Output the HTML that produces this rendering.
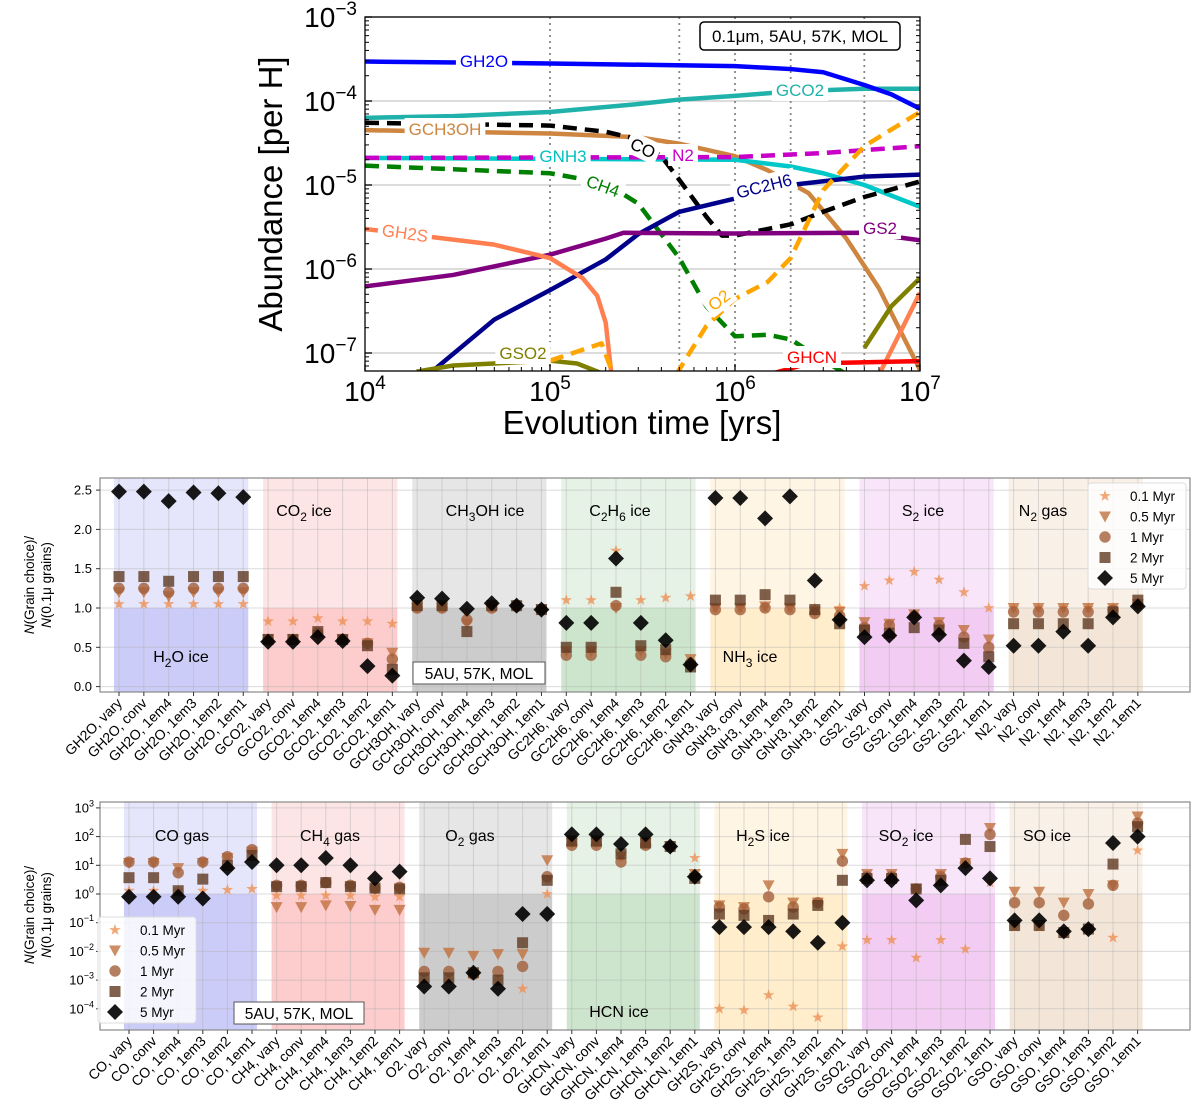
<!DOCTYPE html>
<html><head><meta charset="utf-8">
<style>
html,body{margin:0;padding:0;background:#fff;}
svg{display:block;font-family:"Liberation Sans","DejaVu Sans",sans-serif;}
</style></head>
<body>
<svg id="fig" width="1200" height="1108" viewBox="0 0 1200 1108"></svg>
<script>
// ---------- TOP PANEL DATA ----------
const tGH2O=[1e4,1e5,1e6,2e6,3e6,5e6,7e6,1e7];
const vGH2O=[2.95e-4,2.8e-4,2.6e-4,2.4e-4,2.2e-4,1.55e-4,1.2e-4,8.1e-5];
const tGCO2=[1e4,3e4,1e5,3e5,5e5,1e6,2e6,5e6,1e7];
const vGCO2=[6.3e-5,6.6e-5,7.4e-5,9.2e-5,1.04e-4,1.15e-4,1.3e-4,1.4e-4,1.4e-4];
const tCO=[1e4,1e5,2e5,3e5,4e5,5e5,7e5,8.5e5,1e6,2e6,3e6,5e6,1e7];
const vCO=[5.5e-5,5.1e-5,4.3e-5,3.5e-5,2.2e-5,1.15e-5,4.2e-6,2.5e-6,2.5e-6,3.4e-6,4.8e-6,7.2e-6,1.1e-5];
const tGCH3OH=[1e4,1e5,3e5,5e5,1e6,1.5e6,2.5e6,4e6,6e6,1e7];
const vGCH3OH=[4.5e-5,4.1e-5,3.7e-5,3.1e-5,2.2e-5,1.5e-5,8e-6,2.3e-6,5.9e-7,6.3e-8];
const tGNH3=[1e4,1e6,2e6,3e6,5e6,1e7];
const vGNH3=[2.1e-5,2.0e-5,1.66e-5,1.38e-5,1.0e-5,5.5e-6];
const tN2=[1e4,1e6,3e6,1e7];
const vN2=[2.1e-5,2.15e-5,2.4e-5,2.9e-5];
const tCH4=[1e4,1e5,2e5,3e5,5e5,7e5,1e6,1.5e6,2e6,3e6,4e6];
const vCH4=[1.7e-5,1.38e-5,1.05e-5,6e-6,1.35e-6,3.6e-7,1.58e-7,1.65e-7,1.45e-7,8.2e-8,5.6e-8];
const tGC2H6=[2.3e4,5e4,1e5,2e5,3e5,5e5,1e6,2e6,5e6,1e7];
const vGC2H6=[6.0e-8,2.5e-7,5.6e-7,1.3e-6,2.6e-6,4.8e-6,6.9e-6,1e-5,1.26e-5,1.33e-5];
const tGS2=[1e4,3e4,1e5,2e5,2.5e5,1e6,5e6,1e7];
const vGS2=[6.2e-7,8.5e-7,1.48e-6,2.3e-6,2.7e-6,2.65e-6,2.7e-6,2.2e-6];
const tGH2S=[1e4,5e4,1e5,1.5e5,1.8e5,2e5,2.15e5];
const vGH2S=[3e-6,1.95e-6,1.35e-6,7.8e-7,4.8e-7,2.3e-7,5.5e-8];
const tGH2S_late=[6e6,1e7];
const vGH2S_late=[5.5e-8,5.2e-7];
const tO2_early=[1e5,1.9e5,2.2e5];
const vO2_early=[8.1e-8,1.3e-7,5.5e-8];
const tO2=[4.8e5,7e5,1e6,1.5e6,2e6,3e6,5e6,1e7];
const vO2=[5.5e-8,2.1e-7,4.4e-7,7e-7,1.35e-6,8.7e-6,2.9e-5,7.4e-5];
const tGSO2=[1.9e4,3e4,1e5,1.4e5,2e5];
const vGSO2=[6.0e-8,7.1e-8,8.1e-8,7.5e-8,5.5e-8];
const tGSO2_late=[5e6,7e6,1e7];
const vGSO2_late=[1.15e-7,3.6e-7,7.8e-7];
const tGHCN=[1.5e6,2.5e6,1e7];
const vGHCN=[5.5e-8,7.5e-8,8e-8];
const topXTicks=["4","5","6","7"];
const topYTicks=["-3","-4","-5","-6","-7"];

// ---------- MIDDLE PANEL DATA ----------
const midCats=["GH2O, vary","GH2O, conv","GH2O, 1em4","GH2O, 1em3","GH2O, 1em2","GH2O, 1em1",
"GCO2, vary","GCO2, conv","GCO2, 1em4","GCO2, 1em3","GCO2, 1em2","GCO2, 1em1",
"GCH3OH, vary","GCH3OH, conv","GCH3OH, 1em4","GCH3OH, 1em3","GCH3OH, 1em2","GCH3OH, 1em1",
"GC2H6, vary","GC2H6, conv","GC2H6, 1em4","GC2H6, 1em3","GC2H6, 1em2","GC2H6, 1em1",
"GNH3, vary","GNH3, conv","GNH3, 1em4","GNH3, 1em3","GNH3, 1em2","GNH3, 1em1",
"GS2, vary","GS2, conv","GS2, 1em4","GS2, 1em3","GS2, 1em2","GS2, 1em1",
"N2, vary","N2, conv","N2, 1em4","N2, 1em3","N2, 1em2","N2, 1em1"];
const mid01=[1.05,1.05,1.05,1.05,1.05,1.05, .83,.83,.87,.83,.83,.8, 1.0,1.0,.95,1.0,1.02,.98, 1.1,1.1,1.73,1.1,1.13,1.15, 1.0,1.0,1.0,1.0,1.0,1.0, 1.28,1.35,1.46,1.36,1.2,1.0, 1.0,1.0,1.0,1.0,1.0,1.05];
const mid05=[1.2,1.2,1.15,1.2,1.2,1.2, .6,.6,.66,.6,.55,.43, 1.0,1.0,.8,1.0,1.02,.98, .45,.45,1.0,.45,.42,.35, 1.0,1.0,1.02,1.0,.95,.95, .82,.8,.92,.82,.72,.6, 1.0,1.0,1.0,1.0,1.0,1.05];
const mid1=[1.25,1.25,1.2,1.25,1.25,1.25, .6,.6,.68,.6,.55,.35, 1.0,1.0,.85,1.0,1.02,.98, .4,.4,1.03,.4,.38,.3, .98,.98,1.0,.98,.93,.9, .75,.78,.9,.78,.63,.5, .95,.95,.95,.95,.97,1.05];
const mid2=[1.4,1.4,1.34,1.4,1.4,1.4, .6,.6,.7,.6,.52,.22, 1.03,1.03,.7,1.03,1.03,.98, .5,.5,1.2,.52,.47,.25, 1.1,1.1,1.17,1.1,.98,.8, .72,.68,.75,.72,.55,.38, .8,.8,.8,.8,.95,1.1];
const mid5=[2.48,2.48,2.36,2.47,2.46,2.41, .57,.57,.63,.58,.26,.14, 1.13,1.12,.99,1.06,1.03,.98, .81,.81,1.63,.81,.59,.28, 2.4,2.4,2.14,2.42,1.35,.85, .63,.65,.88,.66,.33,.25, .52,.52,.7,.52,.88,1.02];
const midYTicks=["0.0","0.5","1.0","1.5","2.0","2.5"];

// ---------- BOTTOM PANEL DATA ----------
const botCats=["CO, vary","CO, conv","CO, 1em4","CO, 1em3","CO, 1em2","CO, 1em1",
"CH4, vary","CH4, conv","CH4, 1em4","CH4, 1em3","CH4, 1em2","CH4, 1em1",
"O2, vary","O2, conv","O2, 1em4","O2, 1em3","O2, 1em2","O2, 1em1",
"GHCN, vary","GHCN, conv","GHCN, 1em4","GHCN, 1em3","GHCN, 1em2","GHCN, 1em1",
"GH2S, vary","GH2S, conv","GH2S, 1em4","GH2S, 1em3","GH2S, 1em2","GH2S, 1em1",
"GSO2, vary","GSO2, conv","GSO2, 1em4","GSO2, 1em3","GSO2, 1em2","GSO2, 1em1",
"GSO, vary","GSO, conv","GSO, 1em4","GSO, 1em3","GSO, 1em2","GSO, 1em1"];
const bot01=[1.3,1.3,1.3,1.3,1.4,1.5, .9,.9,.9,.9,.8,.8, 1e-3,1e-3,1.5e-3,1e-3,5e-4,1.0, 60,60,20,60,45,18, 1e-4,9e-5,3e-4,1.2e-4,5e-5,.015, .025,.025,.006,.025,.012,2.5, .07,.07,.045,.06,.03,33];
const bot05=[12,12,8,12,18,30, .35,.35,.4,.38,.28,.28, 9e-3,9e-3,7e-3,8e-3,8e-3,15, 60,60,20,60,45,5, .4,.35,2,.5,.5,25, 5,5,1.5,5,12,200, 1.2,1.2,.5,1.0,2,500];
const bot1=[13,13,5.5,13,20,35, 2,2,2.5,2,1.6,1.7, 2e-3,2e-3,1.6e-3,2e-3,3e-3,4, 50,50,13,50,45,4, .35,.3,.8,.35,.5,14, 4,4,1.5,4,12,120, .5,.5,.18,.45,2,300];
const bot2=[3.7,3.7,1.3,3.3,10,22, 1.8,1.8,2.5,1.8,1.6,1.5, 1.2e-3,1.2e-3,1.8e-3,1e-3,.02,3, 70,70,25,60,45,3.5, .2,.18,.12,.2,.4,3, 3.5,3.5,1.5,3,80,45, .08,.08,.045,.06,11,220];
const bot5=[.8,.8,.8,.7,8,13, 10,10,18,10,3.5,6, 6e-4,6e-4,1.8e-3,5e-4,.2,.2, 120,120,55,120,45,4, .07,.07,.07,.05,.02,.1, 3,3,.6,2,8,3.5, .12,.12,.05,.06,60,100];
const botYTicks=["3","2","1","0","-1","-2","-3","-4"];

// ---------- GEOMETRY ----------
const svg=document.getElementById('fig');
const NS='http://www.w3.org/2000/svg';
function mk(tag,attrs,parent){const e=document.createElementNS(NS,tag);for(const k in attrs)e.setAttribute(k,attrs[k]);(parent||svg).appendChild(e);return e;}

const TX0=365,TX1=920,TY0=17,TDEC=84,TYB=371;
const tx=t=>TX0+(Math.log10(t)-4)*(TX1-TX0)/3;
const ty=v=>TY0+(-3-Math.log10(v))*TDEC;
const MX0=100,MX1=1190,MY0=478,MY1=692;
const mx=i=>119+i*24.85;
const my=v=>686.6-v*78.6;
const BX0=100,BX1=1190,BY0=802,BY1=1030;
const bx=i=>129+i*24.6;
const by=v=>894-Math.log10(v)*28.7;

// ===== TOP PANEL =====
const topG=mk('g',{});


const defs=mk('defs',{});
const clipT=mk('clipPath',{id:'clipT'},defs);mk('rect',{x:TX0,y:TY0,width:TX1-TX0,height:TYB-TY0},clipT);
topYTicks.forEach((s,k)=>{const y=TY0+k*TDEC;const l=mk('line',{x1:TX0,x2:TX1,y1:y,y2:y,stroke:'#c8c8c8','stroke-width':1.3},topG);

});
[1e5,5e5,1e6,2e6,5e6].forEach(t=>{const l=mk('line',{x1:tx(t),x2:tx(t),y1:TY0,y2:TYB,stroke:'#888','stroke-width':1.8,'stroke-dasharray':'2,4'},topG);

});
const lines=mk('g',{'clip-path':'url(#clipT)'},topG);
function series(name,ts,vs,color,dash){
  const p=mk('polyline',{points:ts.map((t,i)=>tx(t)+','+ty(vs[i])).join(' '),fill:'none',stroke:color,'stroke-width':4.5,'stroke-dasharray':dash||'none','stroke-linejoin':'round'},lines);
  
  
}
series('GCO2',tGCO2,vGCO2,'#20b2aa');
series('GH2O',tGH2O,vGH2O,'#0000ff');
series('GCH3OH',tGCH3OH,vGCH3OH,'#cd853f');
series('GNH3',tGNH3,vGNH3,'#00c8c8');
series('N2',tN2,vN2,'#c800c8','14,8');
series('CO',tCO,vCO,'#000','14,8');
series('CH4',tCH4,vCH4,'#008000','14,8');
series('GC2H6',tGC2H6,vGC2H6,'#00008b');
series('GS2',tGS2,vGS2,'#800080');
series('GH2S',tGH2S,vGH2S,'#ff7f50');
series('GH2S-late',tGH2S_late,vGH2S_late,'#ff7f50');
series('GSO2',tGSO2,vGSO2,'#808000');
series('GSO2-late',tGSO2_late,vGSO2_late,'#808000');
series('O2-early',tO2_early,vO2_early,'#ffa500','14,8');
series('O2',tO2,vO2,'#ffa500','14,8');
series('GHCN',tGHCN,vGHCN,'#ff0000');
function lab(txt,x,y,color,rot,name){
  const g=mk('g',{transform:`translate(${x},${y}) rotate(${rot||0})`},topG);
  
  
  const r=mk('rect',{fill:'#fff'},g);
  const t=mk('text',{x:0,y:6,'text-anchor':'middle','font-size':17,fill:color},g);t.textContent=txt;
  let w=txt.length*10.5;
  try{const b=t.getBBox();if(b.width>0)w=b.width;}catch(e){}
  r.setAttribute('x',-w/2-4);r.setAttribute('y',-11);r.setAttribute('width',w+8);r.setAttribute('height',22);
}
lab('GH2O',484,61,'#0000ff',0,'label-gh2o');
lab('GCO2',800,90,'#20b2aa',0,'label-gco2');
lab('GCH3OH',445,129,'#cd853f',0,'label-gch3oh');
lab('GNH3',563,156,'#00c0c0',0,'label-gnh3');
lab('CO',643,148,'#000',25,'label-co');
lab('N2',683,155,'#c800c8',0,'label-n2');
lab('CH4',603,186,'#008000',20,'label-ch4');
lab('GC2H6',764,186,'#00008b',-14,'label-gc2h6');
lab('GS2',880,228,'#800080',0,'label-gs2');
lab('GH2S',405,233,'#ff7f50',8,'label-gh2s');
lab('O2',719,300,'#ffa500',-38,'label-o2');
lab('GSO2',523,353,'#808000',0,'label-gso2');
lab('GHCN',812,357,'#ff0000',0,'label-ghcn');
const tf=mk('rect',{x:TX0,y:TY0,width:TX1-TX0,height:TYB-TY0,fill:'none',stroke:'#000','stroke-width':1.3},topG);


for(let d=-8;d<-3;d++)for(let m=2;m<10;m++){const y=ty(m*Math.pow(10,d));if(y>TY0&&y<TYB){mk('line',{x1:TX0,x2:TX0+4,y1:y,y2:y,stroke:'#000','stroke-width':1},topG);mk('line',{x1:TX1,x2:TX1-4,y1:y,y2:y,stroke:'#000','stroke-width':1},topG);}}
for(let d=4;d<7;d++)for(let m=2;m<10;m++){const x=tx(m*Math.pow(10,d));mk('line',{x1:x,x2:x,y1:TYB,y2:TYB-4,stroke:'#000','stroke-width':1},topG);}
const lbg=mk('g',{},topG);


mk('rect',{x:700,y:22,width:200,height:28,rx:4,fill:'#fff',stroke:'#000','stroke-width':1.5},lbg);
const lbt=mk('text',{x:800,y:42,'text-anchor':'middle','font-size':17},lbg);lbt.textContent='0.1μm, 5AU, 57K, MOL';
topXTicks.forEach((s,k)=>{const x=TX0+k*(TX1-TX0)/3;mk('line',{x1:x,x2:x,y1:TYB,y2:TYB-7,stroke:'#000','stroke-width':1.3},topG);
  const t=mk('text',{x:x,y:TYB+30,'text-anchor':'middle','font-size':28},topG);
  
  
  t.appendChild(document.createTextNode('10'));
  const sp=mk('tspan',{'font-size':19,dy:-12},t);sp.textContent=s;});
topYTicks.forEach((s,k)=>{const y=TY0+k*TDEC;mk('line',{x1:TX0,x2:TX0+7,y1:y,y2:y,stroke:'#000','stroke-width':1.3},topG);
  const t=mk('text',{x:TX0-8,y:y+10,'text-anchor':'end','font-size':28},topG);
  
  
  t.appendChild(document.createTextNode('10'));
  const sp=mk('tspan',{'font-size':19,dy:-12},t);sp.textContent=s.replace('-','−');});
const xl=mk('text',{x:642,y:434,'text-anchor':'middle','font-size':33},topG);xl.textContent='Evolution time [yrs]';


const yl=mk('text',{x:0,y:0,transform:'translate(282,194) rotate(-90)','text-anchor':'middle','font-size':33},topG);yl.textContent='Abundance [per H]';



// ===== SCATTER PANELS =====
const shades=[['#e5e5fb','#ccccf8'],['#fde5e5','#fdcccc'],['#e6e6e6','#cccccc'],['#e5f2e5','#cce5cc'],['#fff5e5','#ffedcc'],['#f9e5f9','#f2ccf2'],['#f9f0e7','#f3e6d8']];
const mcol=['#ee9155','#c0703f','#a35f3a','#5f3a22','#000'];
const mnames=['marker-0p1myr','marker-0p5myr','marker-1myr','marker-2myr','marker-5myr'];
function marker(g,kind,x,y){
  let e;
  if(kind===0){let p=[];for(let k=0;k<10;k++){const r=k%2?2.4:6;const a=-Math.PI/2+k*Math.PI/5;p.push((x+r*Math.cos(a)).toFixed(1)+','+(y+r*Math.sin(a)).toFixed(1));}e=mk('polygon',{points:p.join(' ')},g);}
  else if(kind===1)e=mk('polygon',{points:`${x-6},${y-5} ${x+6},${y-5} ${x},${y+6}`},g);
  else if(kind===2)e=mk('circle',{cx:x,cy:y,r:5.7},g);
  else if(kind===3)e=mk('rect',{x:x-5.5,y:y-5.5,width:11,height:11},g);
  else e=mk('polygon',{points:`${x},${y-8} ${x+8},${y} ${x},${y+8} ${x-8},${y}`},g);
  e.setAttribute('fill',mcol[kind]);e.setAttribute('fill-opacity',kind===4?0.9:0.8);
  return e;
}
function sub(t,base,s,rest){
  t.appendChild(document.createTextNode(base));
  const a=mk('tspan',{'font-size':12,dy:5},t);a.textContent=s;
  const b=mk('tspan',{dy:-5},t);b.textContent=rest||'';
}
function panel(cfg){
  const g=mk('g',{});
  
  
  const {X0,X1,Y0,Y1,xf,yf,cats,series,one}=cfg;
  for(let k=0;k<7;k++){const xa=xf(k*6)-5,xb=xf(k*6+5)+5;
    const r1=mk('rect',{x:xa,y:Y0,width:xb-xa,height:one-Y0,fill:shades[k][0]},g);
    
    
    const r2=mk('rect',{x:xa,y:one,width:xb-xa,height:Y1-one,fill:shades[k][1]},g);
    
    }
  cats.forEach((c,i)=>mk('line',{x1:xf(i),x2:xf(i),y1:Y0,y2:Y1,stroke:'#b0b0b0','stroke-opacity':0.45,'stroke-width':1},g));
  cfg.yt.forEach(yv=>mk('line',{x1:X0,x2:X1,y1:yv,y2:yv,stroke:'#b0b0b0','stroke-opacity':0.45,'stroke-width':1},g));
  series.forEach((arr,k)=>{arr.forEach((v,i)=>{const m=marker(g,k,xf(i),yf(v));
    
    });});
  mk('rect',{x:X0,y:Y0,width:X1-X0,height:Y1-Y0,fill:'none',stroke:'#888','stroke-width':1.2},g);
  cats.forEach((c,i)=>{const x=xf(i);mk('line',{x1:x,x2:x,y1:Y1,y2:Y1+4,stroke:'#333'},g);
    const t=mk('text',{x:0,y:0,transform:`translate(${x+4},${Y1+12}) rotate(-45)`,'text-anchor':'end','font-size':14},g);
    
    
    t.textContent=c;});
  return g;
}
function ylabel(g,x,yc){
  const t=mk('text',{x:0,y:0,transform:`translate(${x},${yc}) rotate(-90)`,'text-anchor':'middle','font-size':13.5},g);
  
  
  const a=mk('tspan',{'font-style':'italic'},t);a.textContent='N';
  t.appendChild(document.createTextNode('(Grain choice)/'));
  const t2=mk('text',{x:0,y:0,transform:`translate(${x+17},${yc}) rotate(-90)`,'text-anchor':'middle','font-size':13.5},g);
  const b=mk('tspan',{'font-style':'italic'},t2);b.textContent='N';
  t2.appendChild(document.createTextNode('(0.1μ grains)'));
}
function glabel(g,x,y){const t=mk('text',{x:x,y:y,'text-anchor':'middle','font-size':16},g);
  
  return t;}
function legend(g,x,y){
  const lg=mk('g',{},g);
  
  
  mk('rect',{x:x,y:y,width:98,height:106,rx:3,fill:'#fff','fill-opacity':0.8,stroke:'#ddd'},lg);
  ['0.1 Myr','0.5 Myr','1 Myr','2 Myr','5 Myr'].forEach((s,k)=>{marker(lg,k,x+17,y+13+k*20.5);const t=mk('text',{x:x+42,y:y+18+k*20.5,'font-size':13.5},lg);t.textContent=s;});
}
// middle
const midYt=midYTicks.map(s=>my(parseFloat(s)));
const gm=panel({name:'ratio-panel-ice',X0:MX0,X1:MX1,Y0:MY0,Y1:MY1,xf:mx,yf:my,cats:midCats,series:[mid01,mid05,mid1,mid2,mid5],one:my(1),yt:midYt});
midYTicks.forEach((s,k)=>{const y=midYt[k];mk('line',{x1:MX0-4,x2:MX0,y1:y,y2:y,stroke:'#333'},gm);const t=mk('text',{x:MX0-8,y:y+4.5,'text-anchor':'end','font-size':13},gm);
  
  t.textContent=s;});
ylabel(gm,34,585);
sub(glabel(gm,181,662),'H','2','O ice');
sub(glabel(gm,304,516),'CO','2',' ice');
sub(glabel(gm,485,516),'CH','3','OH ice');
(function(){const t=glabel(gm,620,516);t.appendChild(document.createTextNode('C'));const a=mk('tspan',{'font-size':12,dy:5},t);a.textContent='2';const b=mk('tspan',{dy:-5},t);b.textContent='H';const c=mk('tspan',{'font-size':12,dy:5},t);c.textContent='6';const d=mk('tspan',{dy:-5},t);d.textContent=' ice';})();
sub(glabel(gm,750,662),'NH','3',' ice');
sub(glabel(gm,923,516),'S','2',' ice');
sub(glabel(gm,1043,516),'N','2',' gas');
const bm=mk('g',{},gm);


mk('rect',{x:413,y:662,width:132,height:22,fill:'#fff',stroke:'#555'},bm);
const bmt=mk('text',{x:479,y:679,'text-anchor':'middle','font-size':15.5},bm);bmt.textContent='5AU, 57K, MOL';
legend(gm,1088,483);
// bottom
const botYt=botYTicks.map(s=>by(Math.pow(10,parseFloat(s))));
const gb=panel({name:'ratio-panel-gas',X0:BX0,X1:BX1,Y0:BY0,Y1:BY1,xf:bx,yf:by,cats:botCats,series:[bot01,bot05,bot1,bot2,bot5],one:by(1),yt:botYt});
botYTicks.forEach((s,k)=>{const y=botYt[k];mk('line',{x1:BX0-4,x2:BX0,y1:y,y2:y,stroke:'#333'},gb);const t=mk('text',{x:BX0-6,y:y+4.5,'text-anchor':'end','font-size':13},gb);
  
  
  t.appendChild(document.createTextNode('10'));
  const sp=mk('tspan',{'font-size':9,dy:-6},t);sp.textContent=s.replace('-','−');});
ylabel(gb,34,915);
glabel(gb,182,841).textContent='CO gas';
sub(glabel(gb,330,841),'CH','4',' gas');
sub(glabel(gb,470,841),'O','2',' gas');
glabel(gb,619,1017).textContent='HCN ice';
sub(glabel(gb,763,841),'H','2','S ice');
sub(glabel(gb,906,841),'SO','2',' ice');
glabel(gb,1047,841).textContent='SO ice';
const bb=mk('g',{},gb);


mk('rect',{x:234,y:1002,width:130,height:22,fill:'#fff',stroke:'#555'},bb);
const bbt=mk('text',{x:299,y:1019,'text-anchor':'middle','font-size':15.5},bb);bbt.textContent='5AU, 57K, MOL';
legend(gb,98,917);
</script>
</body></html>
